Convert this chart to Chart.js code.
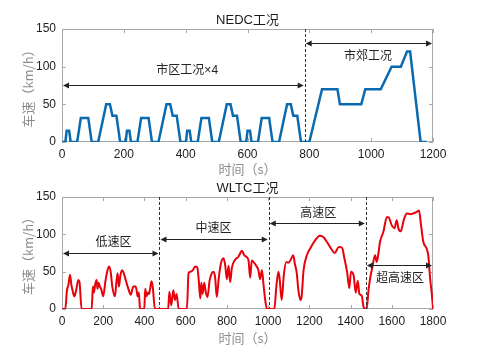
<!DOCTYPE html>
<html>
<head>
  <meta charset="utf-8">
  <title>NEDC / WLTC</title>
  <script src="https://cdn.jsdelivr.net/npm/chart.js"></script>
  <style>
    body { margin: 0; background: #fff; }
    canvas { display: block; }
  </style>
</head>
<body>
  <canvas id="nedc" width="480" height="177"></canvas>
  <canvas id="wltc" width="480" height="177"></canvas>

  <script>
    // NEDC: 4 x ECE-15 urban + EUDC (time s, speed km/h)
    const nedcTime = [0,11,15,23,28,49,61,85,96,117,143,155,163,176,188,
      195,206,210,218,223,244,256,280,291,312,338,350,358,371,383,
      390,401,405,413,418,439,451,475,486,507,533,545,553,566,578,
      585,596,600,608,613,634,646,670,681,702,728,740,748,761,773,
      780,800,841,891,899,968,981,1031,1066,1096,1116,1126,1160,1180];
    const nedcSpeed = [0,0,15,15,0,0,32,32,0,0,50,50,35,35,0,
      0,0,15,15,0,0,32,32,0,0,50,50,35,35,0,
      0,0,15,15,0,0,32,32,0,0,50,50,35,35,0,
      0,0,15,15,0,0,32,32,0,0,50,50,35,35,0,
      0,0,70,70,50,50,70,70,100,100,120,120,0,0];

    // WLTC
    const wltcTime = [0,16,24,31,39,45,52,60,68,79,85,95,144,150,155,161,168,172,178,184,190,200,210,219,228,236,244,257,264,270,276,284,292,300,308,321,334,340,346,357,362,367,373,378,384,399,404,410,416,422,428,434,440,451,
      515,521,530,540,548,556,566,606,614,624,635,646,656,663,671,676,682,690,698,706,716,727,735,743,751,760,771,784,792,800,808,816,824,840,856,873,884,894,905,913,921,932,942,953,961,970,978,986,994,
      1030,1040,1050,1056,1066,1076,1088,1098,1110,1122,1130,1139,1147,1157,1163,1172,1188,1204,1228,1252,1269,1285,1310,1323,1343,1359,1370,1383,1394,1402,1415,1425,1435,1443,1454,1464,
      1478,1487,1495,1505,1519,1527,1535,1543,1559,1576,1584,1600,1613,1624,1632,1643,1660,1673,1690,1705,1721,1732,1742,1753,1769,1777,1786,1796,1800];
    const wltcSpeed = [0,0,25,32,46,33,24,17,24,39,36,0,0,30,22,33,39,27,35,30,27,17,36,50,57,50,30,17,36,48,30,46,52,48,40,28,19,25,30,30,25,17,22,2,0,0,27,17,22,20,28,37,30,0,
      0,23,5,25,12,20,0,0,48,50,52,57,56,40,14,35,20,35,22,16,38,48,50,42,16,40,61,68,58,40,58,36,55,66,70,78,72,70,65,42,65,62,58,52,40,52,32,12,0,
      0,30,50,40,12,45,63,62,66,72,60,48,25,12,18,52,72,81,92,98,96,90,79,75,83,82,68,50,28,50,45,22,38,20,18,2,
      0,25,41,55,72,63,74,90,103,123,123,112,108,119,108,104,121,128,127,128,130,132,112,90,81,72,41,15,0];

    const yTicks = [0, 50, 100, 150];

    // annotation data
    const nedcTitle = 'NEDC工况';
    const nedcDividers = [785];
    const nedcSpanLabels = ['市区工况×4', '市郊工况'];
    const nedcSpanFrom = [0, 785];
    const nedcSpanTo = [785, 1200];
    const nedcSpanLevel = [76, 131];
    const nedcLabelAt = [[405, 94], [990, 113]];

    const wltcTitle = 'WLTC工况';
    const wltcDividers = [473, 1003, 1474];
    const wltcSpanLabels = ['低速区', '中速区', '高速区', '超高速区'];
    const wltcSpanFrom = [0, 473, 1003, 1474];
    const wltcSpanTo = [473, 1003, 1474, 1800];
    const wltcSpanLevel = [75, 94, 115, 59];
    const wltcLabelAt = [[250, 89], [735, 107], [1243, 127], [1640, 41]];

    const FONT = "'Liberation Sans', Arial, 'Noto Sans CJK SC', sans-serif";
    const CJK = "'Noto Sans CJK SC', 'Liberation Sans', sans-serif";

    function arrowHead(ctx, x, y, dir) {
      ctx.beginPath();
      ctx.moveTo(x, y);
      ctx.lineTo(x - dir * 6, y - 3);
      ctx.lineTo(x - dir * 6, y + 3);
      ctx.closePath();
      ctx.fill();
    }

    const framePlugin = {
      id: 'frame',
      beforeDatasetsDraw(chart) {
        const { ctx, chartArea: a, scales: { x, y } } = chart;
        ctx.save();
        ctx.strokeStyle = '#a8a8a8';
        ctx.lineWidth = 1;
        ctx.strokeRect(a.left + 0.5, a.top + 0.5, a.right - a.left - 1, a.bottom - a.top - 1);
        ctx.beginPath();
        x.ticks.forEach(t => {
          const px = Math.round(x.getPixelForValue(t.value)) + 0.5;
          ctx.moveTo(px, a.bottom); ctx.lineTo(px, a.bottom - 4);
          ctx.moveTo(px, a.top); ctx.lineTo(px, a.top + 4);
        });
        y.ticks.forEach(t => {
          const py = Math.round(y.getPixelForValue(t.value)) + 0.5;
          ctx.moveTo(a.left, py); ctx.lineTo(a.left + 4, py);
          ctx.moveTo(a.right, py); ctx.lineTo(a.right - 4, py);
        });
        ctx.stroke();
        ctx.restore();
      },
      afterDatasetsDraw(chart, args, opts) {
        const { ctx, chartArea: a, scales: { x, y } } = chart;
        ctx.save();
        // title
        ctx.fillStyle = '#1a1a1a';
        ctx.font = '13px ' + FONT;
        ctx.textAlign = 'center';
        ctx.textBaseline = 'middle';
        ctx.fillText(opts.title, (a.left + a.right) / 2, a.top - 9);
        // dividers
        ctx.strokeStyle = '#333';
        ctx.lineWidth = 1;
        ctx.setLineDash([3, 2]);
        ctx.beginPath();
        opts.dividers.forEach(v => {
          const px = Math.round(x.getPixelForValue(v)) + 0.5;
          ctx.moveTo(px, a.top); ctx.lineTo(px, a.bottom);
        });
        ctx.stroke();
        ctx.setLineDash([]);
        // spans
        ctx.strokeStyle = '#222';
        ctx.fillStyle = '#222';
        ctx.font = '12px ' + FONT;
        opts.labels.forEach((lab, i) => {
          const x0 = x.getPixelForValue(opts.from[i]) + 1;
          const x1 = x.getPixelForValue(opts.to[i]) - 1;
          const py = Math.round(y.getPixelForValue(opts.level[i])) + 0.5;
          ctx.beginPath();
          ctx.moveTo(x0 + 3, py); ctx.lineTo(x1 - 3, py);
          ctx.stroke();
          arrowHead(ctx, x0, py, -1);
          arrowHead(ctx, x1, py, 1);
          ctx.fillText(lab, x.getPixelForValue(opts.at[i][0]), y.getPixelForValue(opts.at[i][1]));
        });
        ctx.restore();
      }
    };

    function makeChart(id, times, speeds, color, xMax, pad, xHeight, xTitlePad, ann) {
      return new Chart(document.getElementById(id), {
        type: 'line',
        data: {
          datasets: [{
            data: times.map((t, i) => ({ x: t, y: speeds[i] })),
            borderColor: color, borderWidth: ann.width, pointRadius: 0,
            tension: 0, fill: false, cubicInterpolationMode: ann.smooth ? 'monotone' : 'default'
          }]
        },
        options: {
          responsive: false, animation: false,
          layout: { padding: pad },
          plugins: { legend: { display: false }, tooltip: { enabled: false }, frame: ann },
          scales: {
            x: {
              type: 'linear', min: 0, max: xMax,
              afterFit: s => { s.height = xHeight; },
              grid: { display: false, drawTicks: false },
              border: { display: false },
              ticks: { stepSize: 200, padding: 5, color: '#222', font: { family: FONT, size: 12 },
                       callback: v => String(v) },
              title: { display: true, text: '时间（s）', color: '#8c8c8c',
                       font: { family: CJK, size: 13 }, padding: { top: 0, bottom: xTitlePad } }
            },
            y: {
              min: 0, max: 150,
              afterFit: s => { s.width = 62; },
              afterBuildTicks: s => { s.ticks = yTicks.map(v => ({ value: v })); },
              grid: { display: false, drawTicks: false },
              border: { display: false },
              ticks: { padding: 6, color: '#222', font: { family: FONT, size: 12 },
                       callback: v => String(v) },
              title: { display: true, text: '车速（km/h）', color: '#8c8c8c',
                       font: { family: CJK, size: 13 }, padding: { top: 20, bottom: 0 } }
            }
          }
        },
        plugins: [framePlugin]
      });
    }

    makeChart('nedc', nedcTime, nedcSpeed, '#0a6ab0', 1200,
      { top: 29, right: 47, left: 0, bottom: 0 }, 35, 0,
      { title: nedcTitle, dividers: nedcDividers, labels: nedcSpanLabels, from: nedcSpanFrom,
        to: nedcSpanTo, level: nedcSpanLevel, at: nedcLabelAt, width: 2.5, smooth: false });

    makeChart('wltc', wltcTime, wltcSpeed, '#e8000b', 1800,
      { top: 20, right: 47, left: 0, bottom: 0 }, 45, 8,
      { title: wltcTitle, dividers: wltcDividers, labels: wltcSpanLabels, from: wltcSpanFrom,
        to: wltcSpanTo, level: wltcSpanLevel, at: wltcLabelAt, width: 2, smooth: true });
  </script>
</body>
</html>
